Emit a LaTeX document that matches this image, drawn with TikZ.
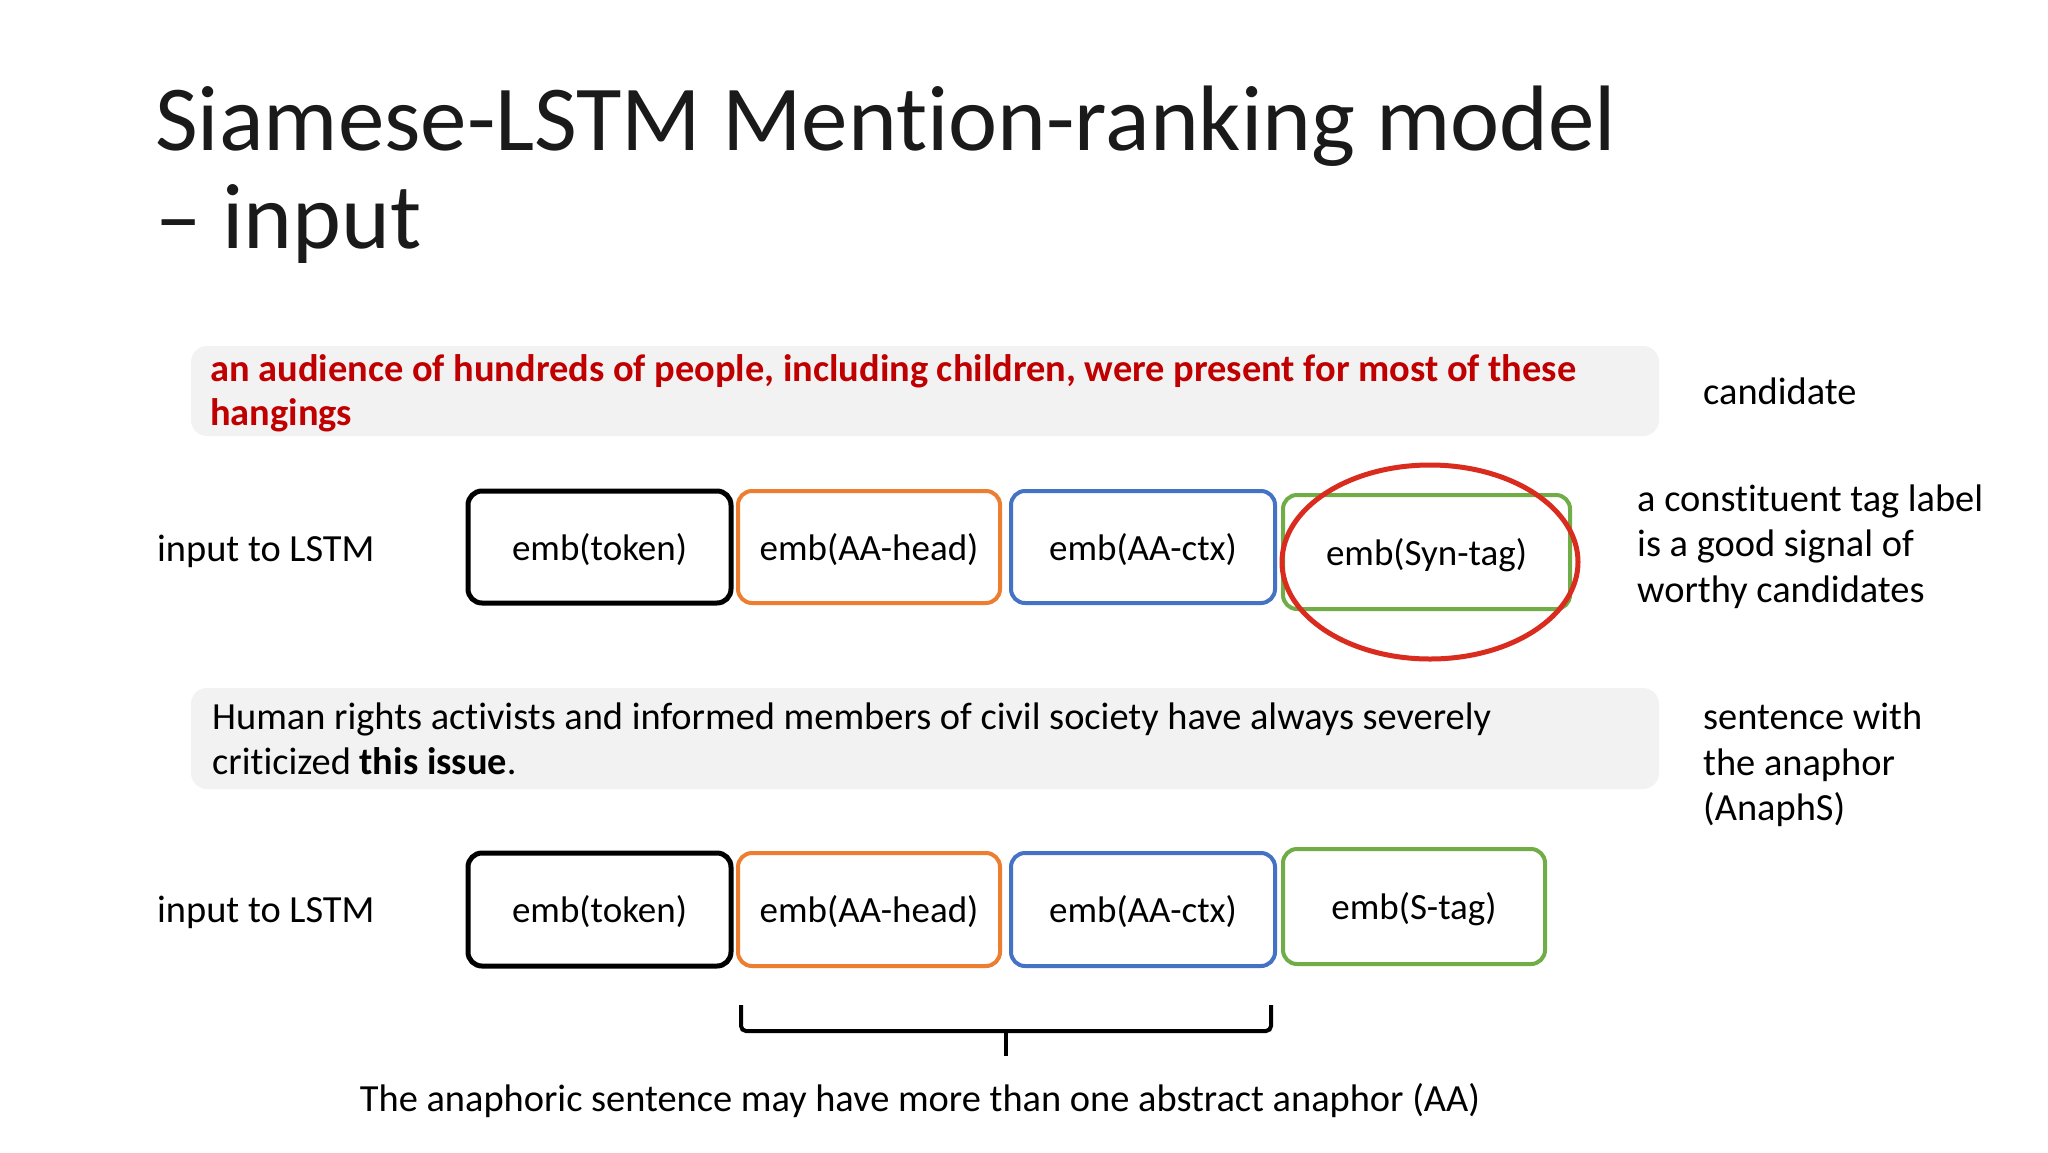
\documentclass[tikz,border=0pt]{standalone}
\usepackage{fontspec}
\setmainfont{Carlito}[Ligatures={NoCommon,NoDiscretionary,NoRequired}]
\definecolor{cOrange}{HTML}{ED7D31}
\definecolor{cBlue}{HTML}{4472C4}
\definecolor{cGreen}{HTML}{70AD47}
\definecolor{cRedText}{HTML}{C00000}
\definecolor{cRing}{HTML}{D92B1E}
\definecolor{cPanel}{HTML}{F2F2F2}
\definecolor{cTitle}{HTML}{1A1A1A}
\tikzset{
  embbox/.style={draw, rounded corners=14pt, inner sep=0pt, font=\fontsize{37}{44}\selectfont, text height=32pt, text depth=5.6pt, minimum height=112pt},
  panel/.style={fill=cPanel, rounded corners=16pt, minimum width=1468pt, inner sep=0pt},
  body/.style={font=\fontsize{38.4}{46}\selectfont, inner sep=0pt, anchor=base west},
  titletext/.style={font=\fontsize{93}{98}\selectfont, text=cTitle, inner sep=0pt, anchor=base west},
}
\begin{document}
\begin{tikzpicture}[x=1pt,y=-1pt]
\useasboundingbox[fill=white] (0,0) rectangle (2048,1152);

% title
\node[titletext] (t1) at (155,150) {Siamese-LSTM Mention-ranking model};
\node[titletext] (t2) at (155,248) {– input};

% candidate panel
\node[panel, minimum height=90pt] (p1) at (925,391) {};
\node[body, font=\fontsize{38.4}{46}\selectfont\bfseries, text=cRedText] (c1) at (210,381) {an audience of hundreds of people, including children, were present for most of these};
\node[body, font=\fontsize{38.4}{46}\selectfont\bfseries, text=cRedText] (c2) at (210,425) {hangings};
\node[body] (lcand) at (1703,404) {candidate};

% row 1
\node[body] (in1) at (157,561) {input to LSTM};
\node[embbox, line width=5pt, minimum width=263pt] (a1) at (599.5,547) {emb(token)};
\node[embbox, line width=4pt, draw=cOrange, minimum width=262pt] (b1) at (869,547) {emb(AA-head)};
\node[embbox, line width=4pt, draw=cBlue, minimum width=264pt] (d1) at (1143,547) {emb(AA-ctx)};
\node[embbox, line width=4pt, draw=cGreen, minimum width=287pt, minimum height=114pt] (e1) at (1426.5,552) {emb(Syn-tag)};
\draw[cRing, line width=5pt] ([xshift=3.5pt,yshift=-10pt]e1.center) ellipse [x radius=148, y radius=97];

\node[body] (r1) at (1637,511) {a constituent tag label};
\node[body] (r2) at (1637,556) {is a good signal of};
\node[body] (r3) at (1637,602) {worthy candidates};

% anaphor panel
\node[panel, minimum height=101pt] (p2) at (925,738.5) {};
\node[body] (s1) at (212,729) {Human rights activists and informed members of civil society have always severely};
\node[body] (s2) at (212,774) {criticized \textbf{this issue}.};
\node[body] (q1) at (1703,729) {sentence with};
\node[body] (q2) at (1703,775) {the anaphor};
\node[body] (q3) at (1703,820) {(AnaphS)};

% row 2
\node[body] (in2) at (157,922) {input to LSTM};
\node[embbox, line width=5pt, minimum width=263pt, minimum height=113pt] (a2) at (599.5,909.5) {emb(token)};
\node[embbox, line width=4pt, draw=cOrange, minimum width=262pt, minimum height=113pt] (b2) at (869,909.5) {emb(AA-head)};
\node[embbox, line width=4pt, draw=cBlue, minimum width=264pt, minimum height=113pt] (d2) at (1143,909.5) {emb(AA-ctx)};
\node[embbox, line width=4pt, draw=cGreen, minimum width=262pt, minimum height=115pt] (e2) at (1414,906.5) {emb(S-tag)};

% brace
\coordinate (bl) at (741,1005);
\coordinate (br) at (1271,1005);
\coordinate (bm) at (1006,1031);
\coordinate (bt) at (1006,1056);
\draw[line width=4pt, rounded corners=5pt] (bl) |- (bm);
\draw[line width=4pt, rounded corners=5pt] (br) |- (bm);
\draw[line width=4pt] (bm) -- (bt);

\node[body, anchor=base] (note) at (920,1111) {The anaphoric sentence may have more than one abstract anaphor (AA)};
\end{tikzpicture}
\end{document}
